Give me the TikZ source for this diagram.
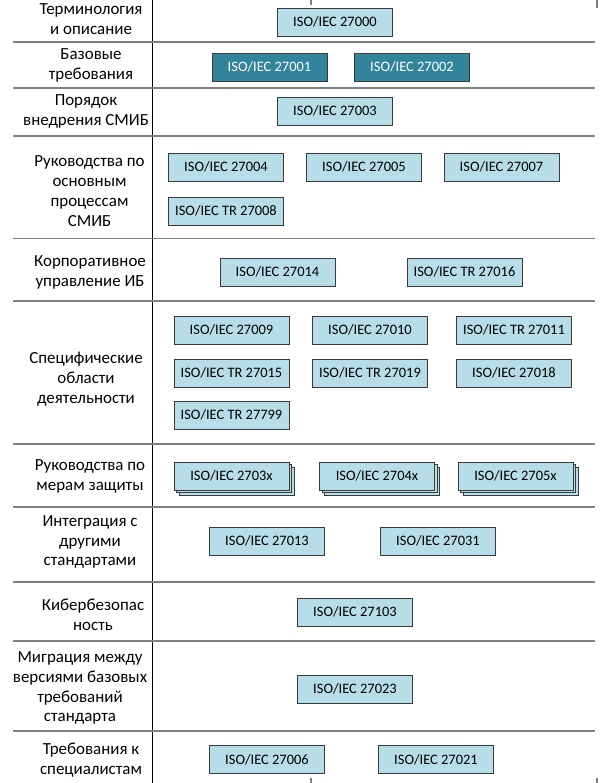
\documentclass[tikz,border=0pt]{standalone}
\usepackage{fontspec}
\setmainfont{Carlito}
\definecolor{lightbox}{HTML}{B7DDE8}
\definecolor{darkbox}{HTML}{31849B}
\definecolor{boxline}{HTML}{3A3A3A}
\definecolor{rulegray}{HTML}{7F7F7F}
\begin{document}
\begin{tikzpicture}[x=1bp,y=-1bp,
  stdbox/.style={draw=boxline, line width=0.9bp, fill=lightbox, minimum width=115bp, minimum height=28bp, inner sep=0pt, font=\fontsize{14.5}{17}\selectfont},
  basebox/.style={stdbox, fill=darkbox, text=white},
  catlabel/.style={align=center, font=\fontsize{17}{20}\selectfont, inner sep=0pt},
  seprule/.style={draw=rulegray, line width=1.6bp},
  colrule/.style={draw=black, line width=1bp},
  tick/.style={draw=rulegray, line width=2.5bp}]
\useasboundingbox (0,0) rectangle (600,783);
% vertical column rule
\coordinate (vt) at (152,0);
\coordinate (vb) at (152,783);
\draw[colrule] (vt) -- (vb);
% small tick marks at the edges
\coordinate (t1a) at (311,0); \coordinate (t1b) at (311,5);
\coordinate (t2a) at (597,0); \coordinate (t2b) at (597,8);
\coordinate (t3a) at (311,778); \coordinate (t3b) at (311,783);
\coordinate (t4a) at (597,778); \coordinate (t4b) at (597,783);
\draw[tick] (t1a) -- (t1b);
\draw[tick] (t2a) -- (t2b);
\draw[tick] (t3a) -- (t3b);
\draw[tick] (t4a) -- (t4b);
% horizontal separators
\foreach \i/\y in {1/42.3,2/87.7,3/135.7,4/238.5,5/301,6/444,7/506.7,8/582,9/641,10/731}{
  \coordinate (sl\i) at (13,\y);
  \coordinate (sr\i) at (595,\y);
  \draw[seprule] (sl\i) -- (sr\i);
}
% category labels
\node[catlabel] (c1) at (91,19) {Терминология\\и описание};
\node[catlabel] (c2) at (91,65) {Базовые\\требования};
\node[catlabel] (c3) at (86,111) {Порядок\\внедрения СМИБ};
\node[catlabel] (c4) at (89.5,191) {Руководства по\\основным\\процессам\\СМИБ};
\node[catlabel] (c5) at (90,272) {Корпоративное\\управление ИБ};
\node[catlabel] (c6) at (86,379) {Специфические\\области\\деятельности};
\node[catlabel] (c7) at (90,476) {Руководства по\\мерам защиты};
\node[catlabel] (c8) at (90,542) {Интеграция с\\другими\\стандартами};
\node[catlabel] (c9) at (93,615) {Кибербезопас\\ность};
\node[catlabel] (c10) at (80,688) {Миграция между\\версиями базовых\\требований\\стандарта};
\node[catlabel] (c11) at (91,760) {Требования к\\специалистам};
% standards
\node[stdbox] (b27000) at (335,22) {ISO/IEC 27000};
\node[basebox] (b27001) at (269.5,67) {ISO/IEC 27001};
\node[basebox] (b27002) at (412,67) {ISO/IEC 27002};
\node[stdbox] (b27003) at (335,111) {ISO/IEC 27003};
\node[stdbox] (b27004) at (226,167) {ISO/IEC 27004};
\node[stdbox] (b27005) at (364,167) {ISO/IEC 27005};
\node[stdbox] (b27007) at (501.5,167) {ISO/IEC 27007};
\node[stdbox] (b27008) at (226,211) {ISO/IEC TR 27008};
\node[stdbox] (b27014) at (277.5,272) {ISO/IEC 27014};
\node[stdbox] (b27016) at (464.5,272) {ISO/IEC TR 27016};
\node[stdbox] (b27009) at (231.5,330) {ISO/IEC 27009};
\node[stdbox] (b27010) at (370,330) {ISO/IEC 27010};
\node[stdbox] (b27011) at (514,330) {ISO/IEC TR 27011};
\node[stdbox] (b27015) at (231.5,373) {ISO/IEC TR 27015};
\node[stdbox] (b27019) at (370,373) {ISO/IEC TR 27019};
\node[stdbox] (b27018) at (514,373) {ISO/IEC 27018};
\node[stdbox] (b27799) at (231.5,415) {ISO/IEC TR 27799};
% stacked families
\node[stdbox] (f3c) at (236.5,481) {};
\node[stdbox] (f3b) at (234,478.5) {};
\node[stdbox] (f3a) at (231.5,476) {ISO/IEC 2703x};
\node[stdbox] (f4c) at (382,481) {};
\node[stdbox] (f4b) at (379.5,478.5) {};
\node[stdbox] (f4a) at (377,476) {ISO/IEC 2704x};
\node[stdbox] (f5c) at (520.5,481) {};
\node[stdbox] (f5b) at (518,478.5) {};
\node[stdbox] (f5a) at (515.5,476) {ISO/IEC 2705x};
\node[stdbox] (b27013) at (267,541) {ISO/IEC 27013};
\node[stdbox] (b27031) at (438,541) {ISO/IEC 27031};
\node[stdbox] (b27103) at (355,612) {ISO/IEC 27103};
\node[stdbox] (b27023) at (355,689) {ISO/IEC 27023};
\node[stdbox] (b27006) at (267,759.5) {ISO/IEC 27006};
\node[stdbox] (b27021) at (436,759.5) {ISO/IEC 27021};
\end{tikzpicture}
\end{document}
